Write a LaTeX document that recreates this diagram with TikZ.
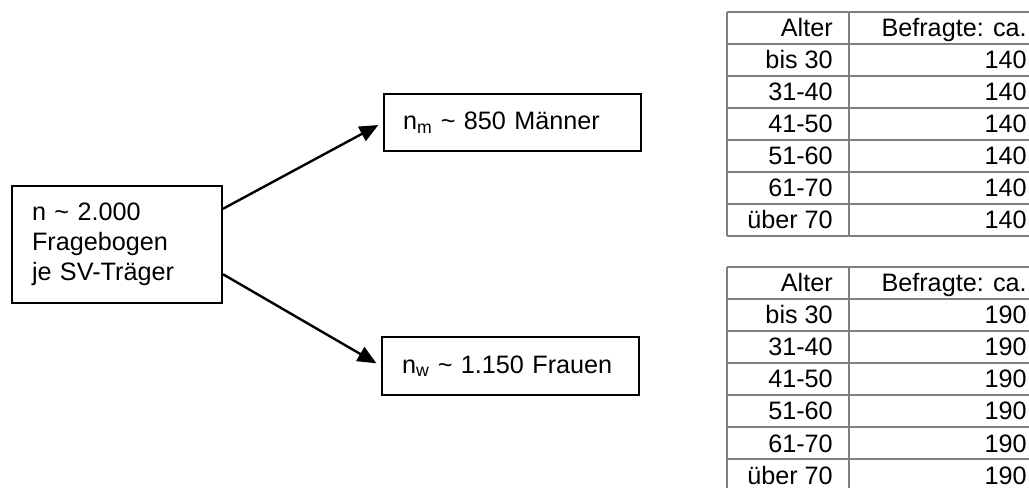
\documentclass[tikz,border=0pt]{standalone}
\usepackage{fontspec}
\setmainfont{Liberation Sans}
\usetikzlibrary{arrows.meta,calc}

\tikzset{
  kasten/.style={draw, line width=1.5pt, inner ysep=0pt, align=left},
  pfeil/.style={line width=1.8pt, -{Triangle[length=14pt,width=12pt]}, shorten >=4pt},
  gitter/.style={draw=gray, line width=1.6pt},
  zelle/.style={anchor=base east, inner sep=0pt},
}

\begin{document}
\begin{tikzpicture}[x=0.75pt,y=-0.75pt,font=\fontsize{18.9}{22.5}\selectfont]
  \useasboundingbox (0,0) rectangle (1029,488);

  \node[kasten, text width=127.5pt, inner xsep=15pt, minimum height=87.75pt] (bogen) at (117,244.5)
    {n \textasciitilde\ 2.000\\Fragebogen\\je SV-Träger};
  \node[kasten, text width=164.25pt, inner xsep=14.25pt, minimum height=42.75pt] (maenner) at (512.5,122.5)
    {n\textsubscript{m} \textasciitilde\ 850 Männer};
  \node[kasten, text width=162.75pt, inner xsep=15pt, minimum height=43.5pt] (frauen) at (510.5,366)
    {n\textsubscript{w} \textasciitilde\ 1.150 Frauen};

  \draw[pfeil] ($(bogen.north east)!0.2!(bogen.south east)$) -- (maenner.west);
  \draw[pfeil] ($(bogen.south east)!0.25!(bogen.north east)$) -- (frauen.west);

  % Tabellen: Maenner oben, Frauen unten
  \foreach \t/\oben/\wert in {m/12/140, w/267/190} {
    \draw[gitter] (727,\oben) -- (1029,\oben);
    \node[zelle] (alt-\t-0) at (833,\oben+25) {Alter};
    \node[zelle] (bef-\t-0) at (1027,\oben+25) {Befragte: ca.};
    \foreach \alt [count=\i] in {bis 30,31-40,41-50,51-60,61-70,über 70} {
      \draw[gitter] (727,\oben+32*\i) -- (1029,\oben+32*\i);
      \node[zelle] (alt-\t-\i) at (833,\oben+32*\i+25) {\alt};
      \node[zelle] (bef-\t-\i) at (1027,\oben+32*\i+25) {\wert};
    }
    \draw[gitter] (727,\oben+224) -- (1029,\oben+224);
    \draw[gitter] (727,\oben) -- (727,\oben+224) (849,\oben) -- (849,\oben+224);
  }
\end{tikzpicture}
\end{document}
